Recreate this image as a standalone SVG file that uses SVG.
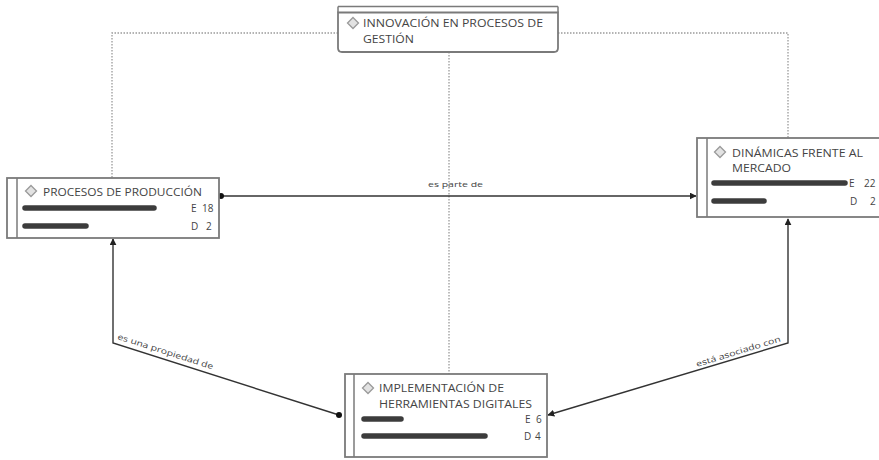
<svg xmlns="http://www.w3.org/2000/svg" width="879" height="460" viewBox="0 0 879 460">
<defs>
<style>
.box{fill:#fff;stroke:#7a7a7a;stroke-width:1.8}
.inner{stroke:#7a7a7a;stroke-width:1.5}
.title{font-family:"Open Sans","Liberation Sans",sans-serif;font-size:11px;fill:#444}
.num{font-family:"Open Sans","Liberation Sans",sans-serif;font-size:10px;fill:#444}
.bar{stroke:#3c3c3c;stroke-width:5.5;stroke-linecap:round}
.icon{fill:#e2e2e2;stroke:#9a9a9a;stroke-width:1.3}
.conn{fill:none;stroke:#333;stroke-width:1.4}
.dot{fill:none;stroke:#9a9a9a;stroke-width:1.3;stroke-dasharray:1.5 1.5}
.lbl{font-family:"Open Sans","Liberation Sans",sans-serif;font-size:8px;fill:#444}
</style>
<marker id="arr" viewBox="0 0 10 10" refX="9" refY="5" markerWidth="7" markerHeight="7" orient="auto-start-reverse" markerUnits="userSpaceOnUse">
<path d="M0,0 L10,5 L0,10 z" fill="#222"/>
</marker>
<marker id="dotm" viewBox="0 0 10 10" refX="5" refY="5" markerWidth="6" markerHeight="6" markerUnits="userSpaceOnUse">
<circle cx="5" cy="5" r="5" fill="#111"/>
</marker>
</defs>
<rect width="879" height="460" fill="#fff"/>
<g id="connectors">
<path class="dot" d="M338,33 H112 V178"/>
<path class="dot" d="M558,33 H788 V138"/>
<path class="dot" d="M449,52 V374"/>
<path class="conn" d="M221,196 H696" marker-start="url(#dotm)" marker-end="url(#arr)"/>
<path class="conn" d="M339,415 L113,343 V239" marker-start="url(#dotm)" marker-end="url(#arr)"/>
<path class="conn" d="M788,219 V343 L548,415" marker-start="url(#arr)" marker-end="url(#arr)"/>
<text class="lbl" x="428" y="187" textLength="55" lengthAdjust="spacingAndGlyphs">es parte de</text>
<text class="lbl" transform="translate(117,339) rotate(17.7)" textLength="100" lengthAdjust="spacingAndGlyphs">es una propiedad de</text>
<text class="lbl" transform="translate(697,367) rotate(-17)" textLength="88" lengthAdjust="spacingAndGlyphs">está asociado con</text>
</g>
<g id="node-innovacion">
<path class="box" d="M338,12.5 H558 V48 Q558,52 554,52 H342 Q338,52 338,48 Z"/>
<line class="inner" x1="338" y1="6.5" x2="558" y2="6.5"/>
<line class="inner" x1="338" y1="6.5" x2="338" y2="12.5"/>
<line class="inner" x1="558" y1="6.5" x2="558" y2="12.5"/>
<polygon class="icon" points="353,17.5 358.5,23 353,28.5 347.5,23"/>
<text class="title" x="363" y="27" textLength="180" lengthAdjust="spacingAndGlyphs">INNOVACIÓN EN PROCESOS DE</text>
<text class="title" x="363" y="43" textLength="51" lengthAdjust="spacingAndGlyphs">GESTIÓN</text>
</g>
<g id="node-procesos">
<rect class="box" x="7" y="178" width="212" height="60"/>
<line class="inner" x1="17" y1="178" x2="17" y2="238"/>
<polygon class="icon" points="31,185.5 36.5,191 31,196.5 25.5,191"/>
<text class="title" x="43" y="195.5" textLength="159" lengthAdjust="spacingAndGlyphs">PROCESOS DE PRODUCCIÓN</text>
<line class="bar" x1="25" y1="208" x2="154" y2="208"/>
<line class="bar" x1="25" y1="226" x2="86" y2="226"/>
<text class="num" x="191" y="212">E</text>
<text class="num" x="202" y="212">18</text>
<text class="num" x="191" y="230">D</text>
<text class="num" x="206" y="230">2</text>
</g>
<g id="node-dinamicas">
<rect class="box" x="697" y="138" width="190" height="79"/>
<line class="inner" x1="707" y1="138" x2="707" y2="217"/>
<polygon class="icon" points="720,146.5 725.5,152 720,157.5 714.5,152"/>
<text class="title" x="732" y="156.5" textLength="131" lengthAdjust="spacingAndGlyphs">DINÁMICAS FRENTE AL</text>
<text class="title" x="732" y="172" textLength="59" lengthAdjust="spacingAndGlyphs">MERCADO</text>
<line class="bar" x1="714" y1="183" x2="845" y2="183"/>
<line class="bar" x1="714" y1="201" x2="764" y2="201"/>
<text class="num" x="849" y="187">E</text>
<text class="num" x="864" y="187">22</text>
<text class="num" x="850" y="205">D</text>
<text class="num" x="870" y="205">2</text>
</g>
<g id="node-implementacion">
<rect class="box" x="345" y="374" width="202" height="83"/>
<line class="inner" x1="354" y1="374" x2="354" y2="457"/>
<polygon class="icon" points="368,382.5 373.5,388 368,393.5 362.5,388"/>
<text class="title" x="379" y="392" textLength="125" lengthAdjust="spacingAndGlyphs">IMPLEMENTACIÓN DE</text>
<text class="title" x="379" y="407.5" textLength="153" lengthAdjust="spacingAndGlyphs">HERRAMIENTAS DIGITALES</text>
<line class="bar" x1="364" y1="419" x2="401" y2="419"/>
<line class="bar" x1="364" y1="436" x2="485" y2="436"/>
<text class="num" x="525" y="423">E</text>
<text class="num" x="536" y="423">6</text>
<text class="num" x="524" y="440">D</text>
<text class="num" x="535" y="440">4</text>
</g>
</svg>
